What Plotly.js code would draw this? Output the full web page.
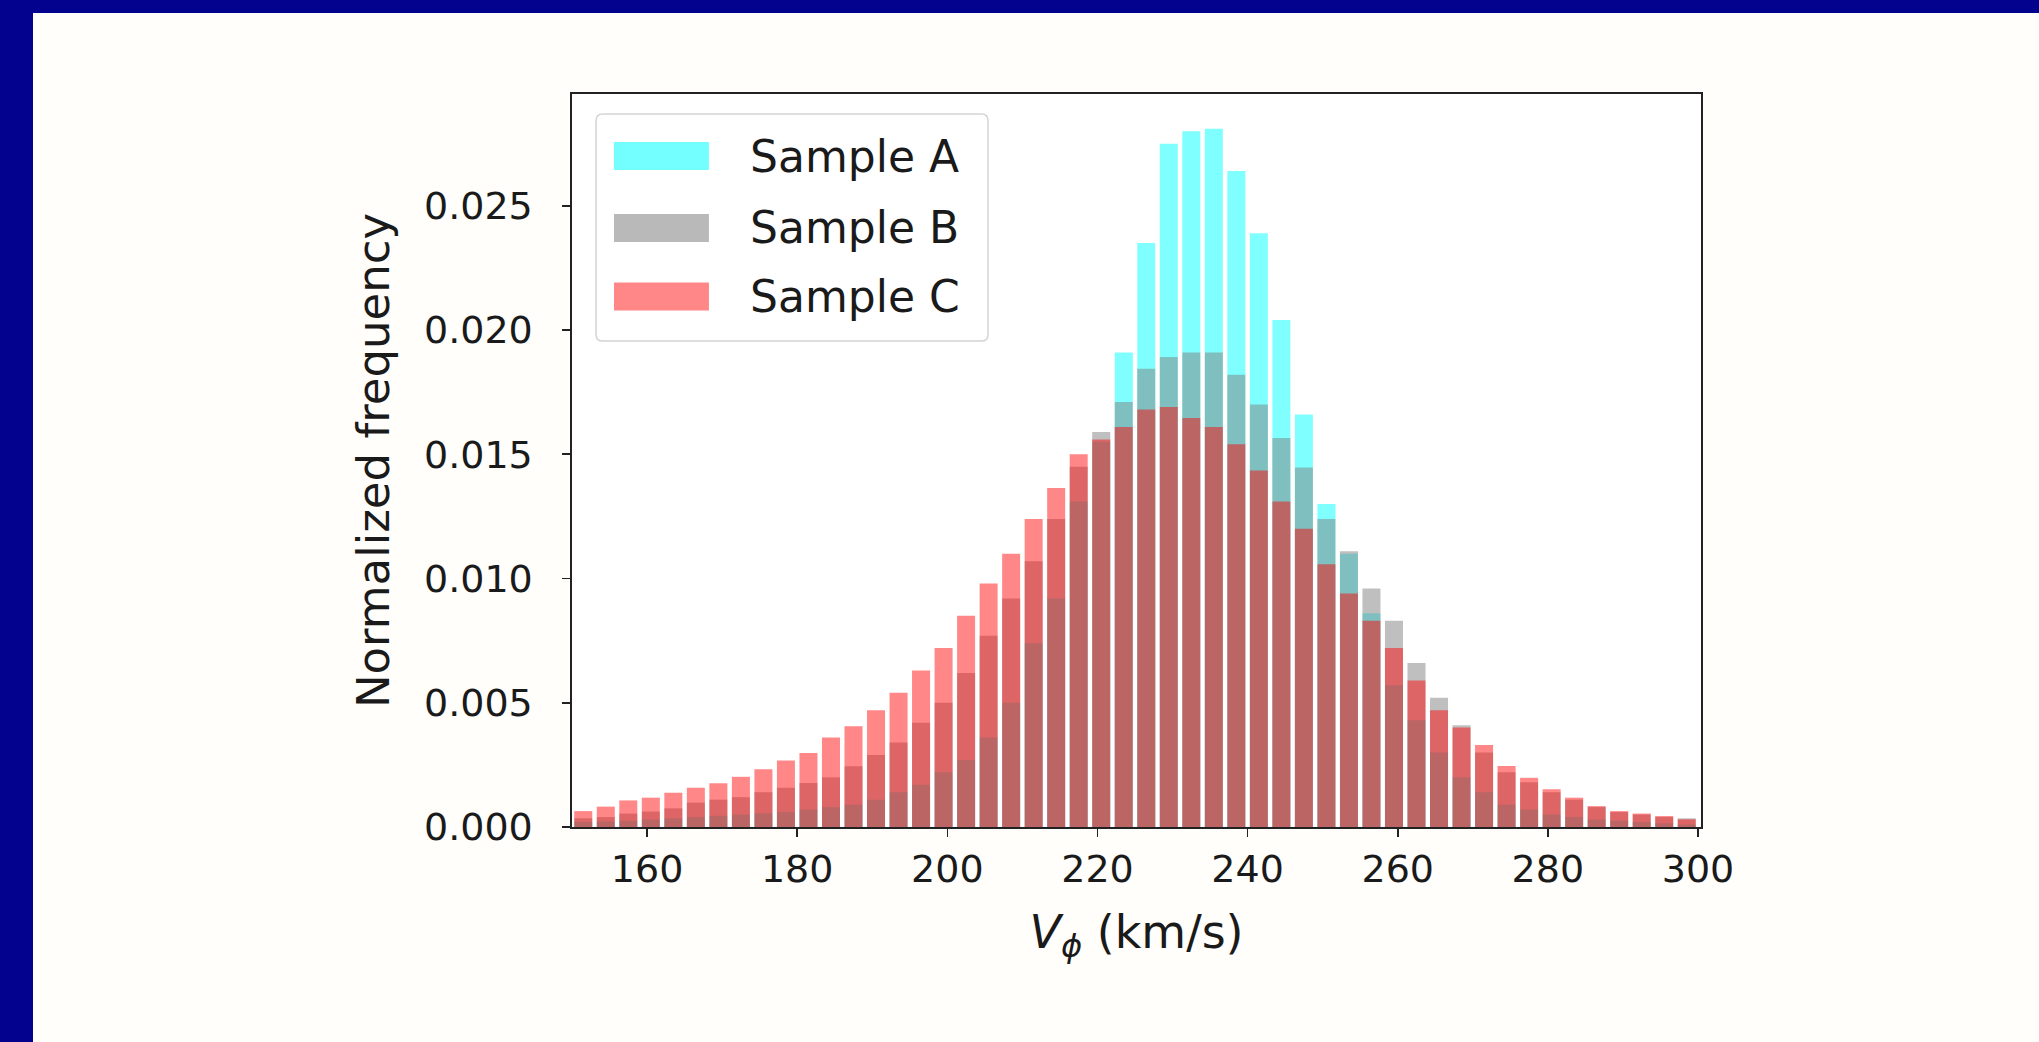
<!DOCTYPE html>
<html>
<head>
<meta charset="utf-8">
<script src="https://cdn.plot.ly/plotly-3.0.1.min.js"></script>
<style>
  html, body { margin: 0; padding: 0; background: #fffefb; }
  #wrap { position: absolute; left: 0; top: 0; width: 2039px; height: 1042px; background: #fffefb; overflow: hidden; }
  #topbar { position: absolute; left: 0; top: 0; width: 2039px; height: 13px; background: #02028e; }
  #leftbar { position: absolute; left: 0; top: 0; width: 33px; height: 1042px; background: #02028e; }
  #chart { position: absolute; left: 33px; top: 13px; width: 2006px; height: 1029px; }
</style>
</head>
<body>
<div id="wrap">
  <div id="topbar"></div>
  <div id="leftbar"></div>
  <div id="chart"></div>
</div>
<script>
// Bin centres (km/s), 3 km/s bins from 150 to 300
const binCenters = [151.5,154.5,157.5,160.5,163.5,166.5,169.5,172.5,175.5,178.5,
                    181.5,184.5,187.5,190.5,193.5,196.5,199.5,202.5,205.5,208.5,
                    211.5,214.5,217.5,220.5,223.5,226.5,229.5,232.5,235.5,238.5,
                    241.5,244.5,247.5,250.5,253.5,256.5,259.5,262.5,265.5,268.5,
                    271.5,274.5,277.5,280.5,283.5,286.5,289.5,292.5,295.5,298.5];

const sampleA = [0.0002,0.00022,0.00025,0.0003,0.00035,0.0004,0.00045,0.0005,0.00055,0.0006,
                 0.0007,0.0008,0.0009,0.0011,0.0014,0.0017,0.0022,0.0027,0.0036,0.0050,
                 0.0074,0.0092,0.0131,0.0155,0.0191,0.0235,0.0275,0.0280,0.0281,0.0264,
                 0.0239,0.0204,0.0166,0.0130,0.0110,0.0086,0.0057,0.0043,0.0030,0.0020,
                 0.0014,0.0009,0.0007,0.0005,0.0004,0.0003,0.00025,0.0002,0.00015,0.0001];

const sampleB = [0.00035,0.0004,0.00054,0.00062,0.00075,0.00098,0.0011,0.0012,0.0014,0.00158,
                 0.00177,0.0020,0.00244,0.0029,0.0034,0.0042,0.0050,0.0062,0.0077,0.0092,
                 0.0107,0.0124,0.0145,0.0159,0.0171,0.01844,0.01892,0.0191,0.0191,0.0182,
                 0.0170,0.01566,0.01447,0.0124,0.0111,0.0096,0.0083,0.0066,0.0052,0.0041,
                 0.0030,0.0022,0.0018,0.0014,0.0011,0.0008,0.0006,0.0005,0.0004,0.00035];

const sampleC = [0.00064,0.00082,0.00107,0.00118,0.00138,0.00158,0.00176,0.00202,0.00232,0.00268,
                 0.00298,0.0036,0.00405,0.0047,0.0054,0.0063,0.0072,0.0085,0.0098,0.0110,
                 0.0124,0.01364,0.0150,0.0156,0.0161,0.0168,0.0169,0.01646,0.0161,0.0154,
                 0.01435,0.0131,0.0120,0.01057,0.0094,0.0083,0.0072,0.0059,0.0047,0.0040,
                 0.0033,0.00245,0.00198,0.00152,0.00118,0.00084,0.00064,0.00054,0.00044,0.00031];

const seriesNames = ["Sample A", "Sample B", "Sample C"];
const xTickVals = [160, 180, 200, 220, 240, 260, 280, 300];
const yTickVals = [0, 0.005, 0.01, 0.015, 0.02, 0.025];

const colors = ["rgba(0,255,255,0.5)", "rgba(128,128,128,0.5)", "rgba(255,0,0,0.47)"];
const legendColors = ["rgba(0,255,255,0.55)", "rgba(128,128,128,0.55)", "rgba(255,0,0,0.47)"];
const font = "DejaVu Sans, Liberation Sans, sans-serif";
const textColor = "#1a1a1a";

const data = [sampleA, sampleB, sampleC].map((ys, i) => ({
  type: "bar",
  x: binCenters,
  y: ys,
  width: 2.4,
  name: seriesNames[i],
  marker: { color: colors[i], line: { width: 0 } },
  showlegend: false,
  hoverinfo: "x+y+name"
}));

// Custom matplotlib-like legend (box, patches, labels)
const lx0 = 0.0213, lx1 = 0.3685, ly0 = 0.663, ly1 = 0.9727;
const rx = 0.006, ry = 0.009;
const boxPath = `M ${lx0+rx},${ly1} L ${lx1-rx},${ly1} Q ${lx1},${ly1} ${lx1},${ly1-ry} L ${lx1},${ly0+ry} Q ${lx1},${ly0} ${lx1-rx},${ly0} L ${lx0+rx},${ly0} Q ${lx0},${ly0} ${lx0},${ly0+ry} L ${lx0},${ly1-ry} Q ${lx0},${ly1} ${lx0+rx},${ly1} Z`;
const shapes = [{
  type: "path", xref: "paper", yref: "paper", path: boxPath,
  fillcolor: "rgba(255,255,255,0.8)", line: { color: "#d4d4d4", width: 1.5 }, layer: "above"
}];
const entryY = [0.9154, 0.8172, 0.7237];
const annotations = [];
seriesNames.forEach((n, i) => {
  shapes.push({
    type: "rect", xref: "paper", yref: "paper",
    x0: 0.0372, x1: 0.1213, y0: entryY[i] - 0.0191, y1: entryY[i] + 0.0191,
    fillcolor: legendColors[i], line: { width: 0 }, layer: "above"
  });
  annotations.push({
    xref: "paper", yref: "paper", x: 0.1559, y: entryY[i],
    xanchor: "left", yanchor: "middle", showarrow: false,
    text: n, font: { family: font, size: 44, color: textColor }
  });
});

const layout = {
  width: 2006, height: 1029,
  margin: { l: 539, r: 338, t: 81, b: 215, pad: 0 },
  paper_bgcolor: "#fffefb",
  plot_bgcolor: "#ffffff",
  barmode: "overlay",
  font: { family: font, size: 37, color: textColor },
  xaxis: {
    range: [150, 300.4],
    tickvals: xTickVals,
    ticks: "outside", ticklen: 8, tickwidth: 1.6, tickcolor: "#222",
    showline: true, linecolor: "#222", linewidth: 1.6, mirror: true,
    showgrid: false, zeroline: false,
    tickfont: { family: font, size: 38, color: textColor },
    title: { text: "<i>V<sub>ϕ</sub></i> (km/s)", font: { family: font, size: 46, color: textColor }, standoff: 25 }
  },
  yaxis: {
    range: [0, 0.0295],
    tickvals: yTickVals,
    tickformat: ".3f",
    ticks: "outside", ticklen: 8, tickwidth: 1.6, tickcolor: "#222",
    ticklabelstandoff: 22,
    showline: true, linecolor: "#222", linewidth: 1.6, mirror: true,
    showgrid: false, zeroline: false,
    tickfont: { family: font, size: 38, color: textColor },
    title: { text: "Normalized frequency", font: { family: font, size: 45, color: textColor }, standoff: 20 }
  },
  shapes: shapes,
  annotations: annotations
};

Plotly.newPlot("chart", data, layout, { displayModeBar: false, staticPlot: true });
</script>
</body>
</html>
